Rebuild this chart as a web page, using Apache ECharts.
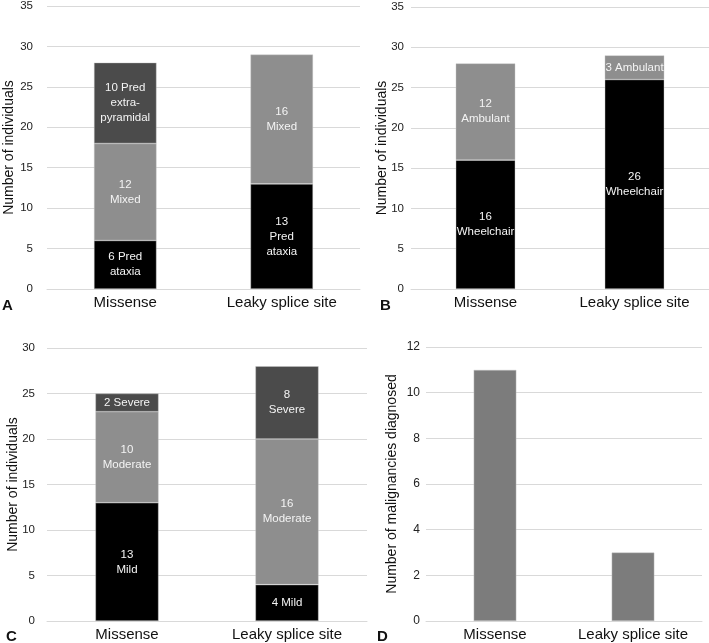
<!DOCTYPE html>
<html><head><meta charset="utf-8">
<script src="https://cdn.jsdelivr.net/npm/echarts@6/dist/echarts.min.js"></script>
<style>html,body{margin:0;padding:0;background:#fff}#c{width:709px;height:643px}</style>
</head><body><div id="c"></div>
<script>
const categories = ['Missense', 'Leaky splice site'];

// Panel A
const aPredAtaxia = [6, 13];
const aMixed = [12, 16];
const aPredExtra = [10, null];
const aPredAtaxiaLabels = ['6 Pred\nataxia', '13\nPred\nataxia'];
const aMixedLabels = ['12\nMixed', '16\nMixed'];
const aPredExtraLabels = ['10 Pred\nextra-\npyramidal', ''];

// Panel B
const bWheelchair = [16, 26];
const bAmbulant = [12, 3];
const bWheelchairLabels = ['16\nWheelchair', '26\nWheelchair'];
const bAmbulantLabels = ['12\nAmbulant', '3 Ambulant'];

// Panel C
const cMild = [13, 4];
const cModerate = [10, 16];
const cSevere = [2, 8];
const cMildLabels = ['13\nMild', '4 Mild'];
const cModerateLabels = ['10\nModerate', '16\nModerate'];
const cSevereLabels = ['2 Severe', '8\nSevere'];

// Panel D
const dMalignancies = [11, 3];

const yNames = ['Number of individuals', 'Number of individuals', 'Number of individuals', 'Number of malignancies diagnosed'];
const yMax = [35, 35, 30, 12];
const yInterval = [5, 5, 5, 2];

const BLACK = '#000000', MID = '#8e8e8e', DARK = '#4b4b4b', DBAR = '#7c7c7c';
const FONT = 'Liberation Sans, Arial, sans-serif';

function withLabels(values, labels) {
  return values.map((v, i) => ({ value: v, label: { formatter: labels[i] } }));
}
function stackSeries(idx, values, labels, color, width) {
  return {
    type: 'bar', xAxisIndex: idx, yAxisIndex: idx, stack: 's' + idx,
    barWidth: width,
    data: withLabels(values, labels),
    itemStyle: { color: color, borderColor: 'rgba(200,200,200,0.7)', borderWidth: 0.6 },
    label: { show: true, position: 'inside', color: '#f4f4f4', fontFamily: FONT, fontSize: 11.5, lineHeight: 15, overflow: 'none' },
    labelLayout: { hideOverlap: false },
    emphasis: { disabled: true }
  };
}

const grids = [
  { left: 47, top: 5, width: 313, height: 284 },
  { left: 411, top: 7, width: 300, height: 282 },
  { left: 47, top: 348, width: 320, height: 273 },
  { left: 426, top: 347, width: 276, height: 274 }
];
const nameGaps = [31, 22, 27, 27];
const labelMargins = [14, 7, 12, 6];
const tickSizes = [11.5, 11.5, 11.5, 12];

const option = {
  animation: false,
  backgroundColor: '#fff',
  grid: grids,
  xAxis: grids.map((g, i) => ({
    type: 'category', gridIndex: i, data: categories,
    axisLine: { show: true, lineStyle: { color: '#d9d9d9', width: 1 } },
    axisTick: { show: false },
    axisLabel: { color: '#111', fontFamily: FONT, fontSize: 15, margin: 6, interval: 0, hideOverlap: false }
  })),
  yAxis: grids.map((g, i) => ({
    type: 'value', gridIndex: i, min: 0, max: yMax[i], interval: yInterval[i],
    name: yNames[i], nameLocation: 'middle', nameGap: nameGaps[i], nameRotate: 90,
    nameMoveOverlap: false,
    nameTextStyle: { color: '#111', fontFamily: FONT, fontSize: 14 },
    axisLine: { show: false }, axisTick: { show: false },
    axisLabel: { color: '#222', fontFamily: FONT, fontSize: tickSizes[i], margin: labelMargins[i] },
    splitLine: { show: true, lineStyle: { color: '#d9d9d9', width: 1 } }
  })),
  series: [
    stackSeries(0, aPredAtaxia, aPredAtaxiaLabels, BLACK, '40%'),
    stackSeries(0, aMixed, aMixedLabels, MID, '40%'),
    stackSeries(0, aPredExtra, aPredExtraLabels, DARK, '40%'),
    stackSeries(1, bWheelchair, bWheelchairLabels, BLACK, '40%'),
    stackSeries(1, bAmbulant, bAmbulantLabels, MID, '40%'),
    stackSeries(2, cMild, cMildLabels, BLACK, '39.5%'),
    stackSeries(2, cModerate, cModerateLabels, MID, '39.5%'),
    stackSeries(2, cSevere, cSevereLabels, DARK, '39.5%'),
    {
      type: 'bar', xAxisIndex: 3, yAxisIndex: 3, barWidth: '31%',
      data: dMalignancies,
      itemStyle: { color: DBAR, borderColor: 'rgba(200,200,200,0.7)', borderWidth: 0.6 },
      emphasis: { disabled: true }
    }
  ],
  graphic: [
    { type: 'text', left: 2, top: 298, style: { text: 'A', fontFamily: FONT, fontWeight: 'bold', fontSize: 15, fill: '#111' } },
    { type: 'text', left: 380, top: 298, style: { text: 'B', fontFamily: FONT, fontWeight: 'bold', fontSize: 15, fill: '#111' } },
    { type: 'text', left: 6, top: 629, style: { text: 'C', fontFamily: FONT, fontWeight: 'bold', fontSize: 15, fill: '#111' } },
    { type: 'text', left: 377, top: 629, style: { text: 'D', fontFamily: FONT, fontWeight: 'bold', fontSize: 15, fill: '#111' } }
  ]
};
const chart = echarts.init(document.getElementById('c'), null, { renderer: 'canvas' });
chart.setOption(option);
</script></body></html>
